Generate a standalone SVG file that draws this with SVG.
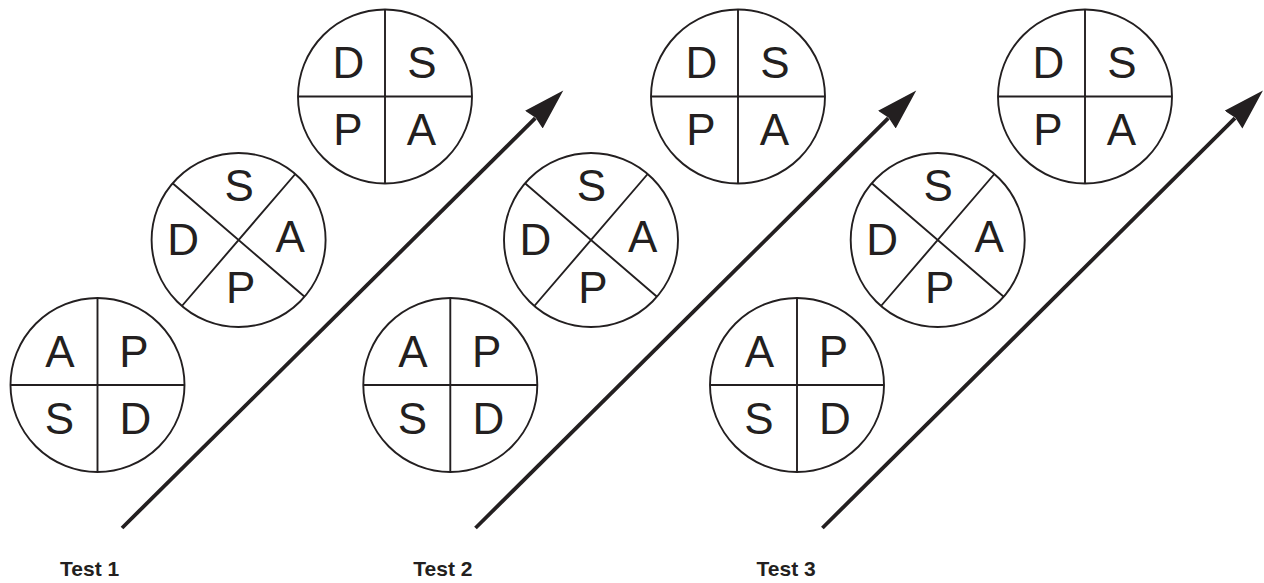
<svg xmlns="http://www.w3.org/2000/svg" width="1264" height="583" viewBox="0 0 1264 583">
<style>
.ring{fill:#fff;stroke:#231f20;stroke-width:1.9}
.div{stroke:#231f20;stroke-width:1.9;fill:none}
.let{font-family:"Liberation Sans",Arial,sans-serif;font-size:44px;fill:#231f20;text-anchor:middle}
.lab{font-family:"Liberation Sans",Arial,sans-serif;font-size:21px;font-weight:bold;fill:#231f20}
.arr{stroke:#231f20;stroke-width:3.8;fill:none;marker-end:url(#head)}
</style>
<defs>
<marker id="head" markerUnits="userSpaceOnUse" viewBox="0 -13 42 26" refX="2" refY="0" markerWidth="42" markerHeight="26" orient="auto">
<path d="M0,-12.5 L41.4,0 L0,12.5 L2.5,0 Z" fill="#231f20"/>
</marker>
</defs>
<rect width="1264" height="583" fill="#fff"/>
<g id="connectors">
<line class="arr" x1="122" y1="528" x2="535.3" y2="118.2"/>
<line class="arr" x1="475.5" y1="528" x2="888.3" y2="118.2"/>
<line class="arr" x1="822.4" y1="528" x2="1235" y2="118.2"/>
</g>
<g id="t1-top" transform="translate(385,96.5)">
<circle class="ring" r="87"/><path class="div" d="M0,-87V87M-87,0H87"/>
<text class="let" x="-36.5" y="-18.5">D</text><text class="let" x="37" y="-18.5">S</text>
<text class="let" x="-37" y="48.7">P</text><text class="let" x="36.5" y="48.7">A</text>
</g>
<g id="t1-mid" transform="translate(238.6,240)">
<circle class="ring" r="87"/><path class="div" d="M-66,-56.7L66,56.7M56.7,-66L-56.7,66"/>
<text class="let" x="0.5" y="-39">S</text><text class="let" x="-55.5" y="15">D</text>
<text class="let" x="51.6" y="11.7">A</text><text class="let" x="2" y="63">P</text>
</g>
<g id="t1-bot" transform="translate(97.5,385)">
<circle class="ring" r="87"/><path class="div" d="M0,-87V87M-87,0H87"/>
<text class="let" x="-37.5" y="-18.5">A</text><text class="let" x="36.5" y="-18.5">P</text>
<text class="let" x="-38" y="48.7">S</text><text class="let" x="38" y="48.7">D</text>
</g>
<g id="t2-top" transform="translate(738,96.5)">
<circle class="ring" r="87"/><path class="div" d="M0,-87V87M-87,0H87"/>
<text class="let" x="-36.5" y="-18.5">D</text><text class="let" x="37" y="-18.5">S</text>
<text class="let" x="-37" y="48.7">P</text><text class="let" x="36.5" y="48.7">A</text>
</g>
<g id="t2-mid" transform="translate(591,240)">
<circle class="ring" r="87"/><path class="div" d="M-66,-56.7L66,56.7M56.7,-66L-56.7,66"/>
<text class="let" x="0.5" y="-39">S</text><text class="let" x="-55.5" y="15">D</text>
<text class="let" x="51.6" y="11.7">A</text><text class="let" x="2" y="63">P</text>
</g>
<g id="t2-bot" transform="translate(450.3,385)">
<circle class="ring" r="87"/><path class="div" d="M0,-87V87M-87,0H87"/>
<text class="let" x="-37.5" y="-18.5">A</text><text class="let" x="36.5" y="-18.5">P</text>
<text class="let" x="-38" y="48.7">S</text><text class="let" x="38" y="48.7">D</text>
</g>
<g id="t3-top" transform="translate(1085,96.5)">
<circle class="ring" r="87"/><path class="div" d="M0,-87V87M-87,0H87"/>
<text class="let" x="-36.5" y="-18.5">D</text><text class="let" x="37" y="-18.5">S</text>
<text class="let" x="-37" y="48.7">P</text><text class="let" x="36.5" y="48.7">A</text>
</g>
<g id="t3-mid" transform="translate(937.7,240)">
<circle class="ring" r="87"/><path class="div" d="M-66,-56.7L66,56.7M56.7,-66L-56.7,66"/>
<text class="let" x="0.5" y="-39">S</text><text class="let" x="-55.5" y="15">D</text>
<text class="let" x="51.6" y="11.7">A</text><text class="let" x="2" y="63">P</text>
</g>
<g id="t3-bot" transform="translate(797,385)">
<circle class="ring" r="87"/><path class="div" d="M0,-87V87M-87,0H87"/>
<text class="let" x="-37.5" y="-18.5">A</text><text class="let" x="36.5" y="-18.5">P</text>
<text class="let" x="-38" y="48.7">S</text><text class="let" x="38" y="48.7">D</text>
</g>
<g id="labels">
<text class="lab" x="60" y="576">Test 1</text>
<text class="lab" x="413.3" y="576">Test 2</text>
<text class="lab" x="756.6" y="576">Test 3</text>
</g>
</svg>
